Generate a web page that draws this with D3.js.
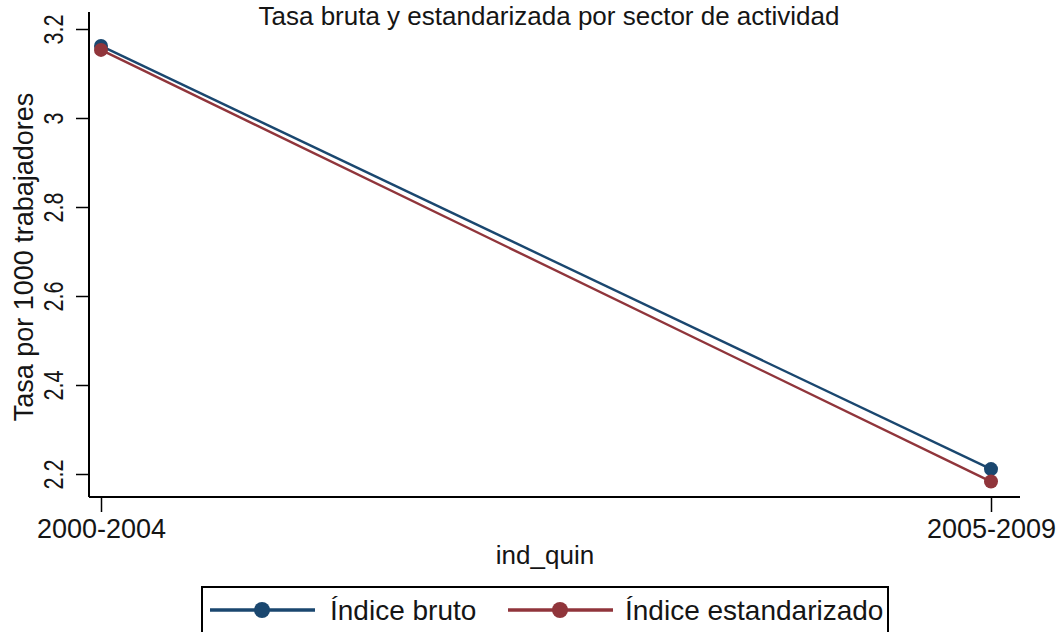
<!DOCTYPE html>
<html><head><meta charset="utf-8">
<script src="https://cdn.jsdelivr.net/npm/d3@7/dist/d3.min.js"></script>
<style>body{margin:0;background:#fff}svg{display:block}text{font-family:"Liberation Sans",Arial,sans-serif;fill:#151515}</style>
</head><body><svg id="c" width="1060" height="632"></svg>
<script>
const categories = ["2000-2004", "2005-2009"];
const bruto = [3.162, 2.211];
const estandarizado = [3.153, 2.183];
const yTicks = [2.2, 2.4, 2.6, 2.8, 3, 3.2];
const seriesNames = ["Índice bruto", "Índice estandarizado"];
const colors = ["#1a476f", "#90353b"];
const series = [bruto, estandarizado];

const svg = d3.select("#c");
const x = d3.scalePoint().domain(categories).range([101, 991]);
const y = d3.scaleLinear().domain([2.2, 3.2]).range([474, 29]);

// title (at the very top, as in the reference)
svg.append("text").attr("x", 549).attr("y", 25).attr("text-anchor", "middle")
  .attr("font-size", 26).text("Tasa bruta y estandarizada por sector de actividad");

// y axis
const ya = svg.append("g").attr("transform", "translate(89,0)")
  .call(d3.axisLeft(y).tickValues(yTicks).tickFormat(d3.format("~g")).tickSize(13));
ya.select(".domain").attr("d", "M0,12V497").attr("stroke", "#000").attr("stroke-width", 2);
ya.selectAll(".tick line").attr("stroke", "#000").attr("stroke-width", 1.5);
ya.selectAll(".tick text").attr("font-size", 27).attr("fill", "#151515")
  .attr("font-family", "Liberation Sans, Arial, sans-serif")
  .attr("text-anchor", "middle").attr("dy", 0)
  .attr("x", 0).attr("y", -26)
  .attr("transform", "rotate(-90) scale(0.8,1)");

// x axis
const xa = svg.append("g").attr("transform", "translate(0,497)")
  .call(d3.axisBottom(x).tickSize(15).tickPadding(0));
xa.select(".domain").attr("d", "M89,0H1020").attr("stroke", "#000").attr("stroke-width", 2);
xa.selectAll(".tick line").attr("stroke", "#000").attr("stroke-width", 1.5);
xa.selectAll(".tick text").attr("font-size", 27).attr("fill", "#151515")
  .attr("font-family", "Liberation Sans, Arial, sans-serif")
  .attr("dy", 0).attr("y", 41);

svg.append("text").attr("x", 545).attr("y", 564).attr("text-anchor", "middle")
  .attr("font-size", 26).text("ind_quin");
svg.append("text").attr("transform", "translate(33,257) rotate(-90)").attr("text-anchor", "middle")
  .attr("font-size", 27).text("Tasa por 1000 trabajadores");

// lines
const line = d3.line().x((d, i) => x(categories[i])).y(d => y(d));
series.forEach((s, k) => {
  svg.append("path").datum(s).attr("d", line).attr("fill", "none")
    .attr("stroke", colors[k]).attr("stroke-width", 2.4);
});
series.forEach((s, k) => {
  svg.selectAll(null).data(s).enter().append("circle")
    .attr("cx", (d, i) => x(categories[i])).attr("cy", d => y(d)).attr("r", 7)
    .attr("fill", colors[k]);
});

// legend
const lg = svg.append("g");
lg.append("rect").attr("x", 202).attr("y", 587).attr("width", 686).attr("height", 60)
  .attr("fill", "#fff").attr("stroke", "#000").attr("stroke-width", 2);
const items = [{lx: 210, tx: 330}, {lx: 508, tx: 625}];
items.forEach((it, k) => {
  lg.append("line").attr("x1", it.lx).attr("x2", it.lx + 105).attr("y1", 610).attr("y2", 610)
    .attr("stroke", colors[k]).attr("stroke-width", 3.5);
  lg.append("circle").attr("cx", it.lx + 52).attr("cy", 610).attr("r", 8).attr("fill", colors[k]);
  lg.append("text").attr("x", it.tx).attr("y", 620).attr("font-size", 28).text(seriesNames[k]);
});
</script></body></html>
